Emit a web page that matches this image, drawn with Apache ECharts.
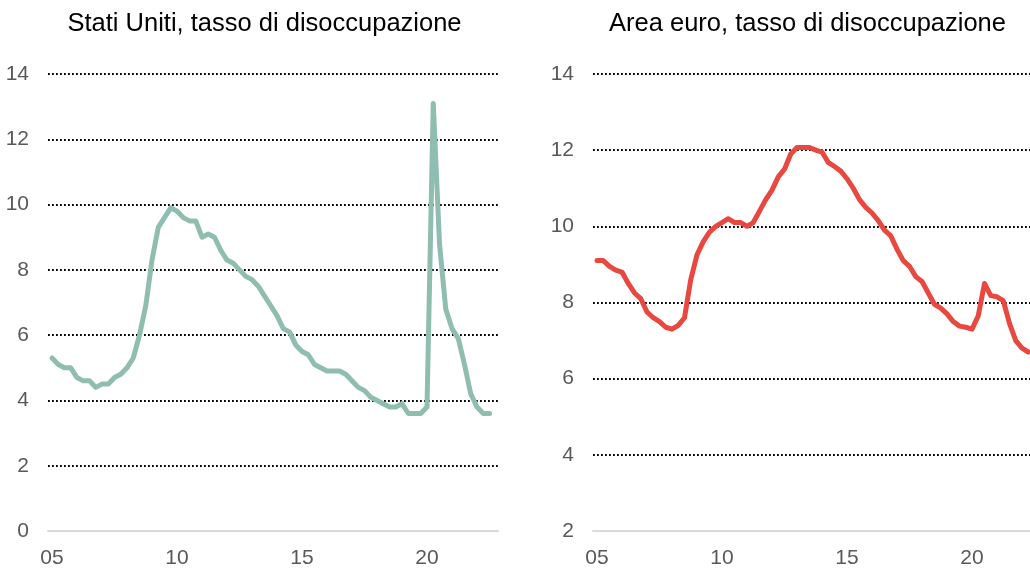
<!DOCTYPE html>
<html>
<head>
<meta charset="utf-8">
<script src="https://cdn.jsdelivr.net/npm/echarts@6/dist/echarts.min.js"></script>
<style>html,body{margin:0;padding:0;background:#fff;}#c{width:1030px;height:569px;}</style>
</head>
<body>
<div id="c"></div>
<script>
// Quarterly data, first quarter 2005 Q1
const startYear = 2005;
const usTitle = 'Stati Uniti, tasso di disoccupazione';
const euTitle = 'Area euro, tasso di disoccupazione';
const usUnemployment = [
  5.3, 5.1, 5.0, 5.0, 4.7, 4.6, 4.6, 4.4, 4.5, 4.5, 4.7, 4.8,
  5.0, 5.3, 6.0, 6.9, 8.3, 9.3, 9.6, 9.9, 9.8, 9.6, 9.5, 9.5,
  9.0, 9.1, 9.0, 8.6, 8.3, 8.2, 8.0, 7.8, 7.7, 7.5, 7.2, 6.9,
  6.6, 6.2, 6.1, 5.7, 5.5, 5.4, 5.1, 5.0, 4.9, 4.9, 4.9, 4.8,
  4.6, 4.4, 4.3, 4.1, 4.0, 3.9, 3.8, 3.8, 3.9, 3.6, 3.6, 3.6,
  3.8, 13.1, 8.8, 6.8, 6.2, 5.9, 5.1, 4.2, 3.8, 3.6, 3.6
];
const euUnemployment = [
  9.1, 9.1, 8.95, 8.85, 8.8, 8.5, 8.25, 8.1, 7.75, 7.6, 7.5, 7.35,
  7.3, 7.4, 7.6, 8.6, 9.25, 9.6, 9.85, 10.0, 10.1, 10.2, 10.1, 10.1,
  10.0, 10.1, 10.4, 10.7, 10.95, 11.3, 11.5, 11.9, 12.07, 12.07, 12.07, 12.0,
  11.95, 11.68, 11.57, 11.45, 11.25, 11.0, 10.7, 10.5, 10.35, 10.15, 9.9, 9.75,
  9.4, 9.1, 8.95, 8.68, 8.55, 8.25, 7.95, 7.85, 7.7, 7.5, 7.38, 7.35,
  7.3, 7.65, 8.5, 8.18, 8.15, 8.05, 7.45, 7.0, 6.8, 6.7
];
const xTickYears = [2005, 2010, 2015, 2020];
const xTickLabels = ['05', '10', '15', '20'];
const usYTicks = [0, 2, 4, 6, 8, 10, 12, 14];
const euYTicks = [2, 4, 6, 8, 10, 12, 14];

const toPairs = arr => arr.map((v, i) => [startYear + i / 4, v]);

const FONT = '"Liberation Sans", Arial, sans-serif';
const labelColor = '#595959';

function xAxis(gridIndex, max) {
  return {
    type: 'value', gridIndex, min: 2004.84, max,
    axisLine: { show: true, onZero: false, lineStyle: { color: '#d9d9d9', width: 2 } },
    axisTick: { show: false },
    splitLine: { show: false },
    axisLabel: {
      customValues: xTickYears,
      formatter: v => xTickLabels[xTickYears.indexOf(Math.round(v))] || '',
      color: labelColor, fontSize: 21, fontFamily: FONT, margin: 17
    }
  };
}
function yAxis(gridIndex, ticks) {
  return {
    type: 'value', gridIndex, min: ticks[0], max: ticks[ticks.length - 1], interval: 2,
    axisLine: { show: false }, axisTick: { show: false },
    axisLabel: { color: labelColor, fontSize: 21, fontFamily: FONT, margin: 19 },
    splitLine: { show: true, showMinLine: false, lineStyle: { color: '#000', width: 1.8, type: [1.8, 2.2] } }
  };
}

const chart = echarts.init(document.getElementById('c'), null, { renderer: 'canvas' });
chart.setOption({
  backgroundColor: '#fff',
  animation: false,
  title: [
    { text: usTitle, left: 264.5, top: 11, textAlign: 'center', padding: 0,
      textStyle: { fontSize: 25.5, fontWeight: 'normal', color: '#000', fontFamily: FONT } },
    { text: euTitle, left: 807.5, top: 11, textAlign: 'center', padding: 0,
      textStyle: { fontSize: 25.5, fontWeight: 'normal', color: '#000', fontFamily: FONT } }
  ],
  grid: [
    { left: 48, width: 450, top: 74, height: 458, containLabel: false },
    { left: 593, width: 437, top: 74, height: 458, containLabel: false }
  ],
  xAxis: [xAxis(0, 2022.84), xAxis(1, 2022.32)],
  yAxis: [yAxis(0, usYTicks), yAxis(1, euYTicks)],
  series: [
    { type: 'line', xAxisIndex: 0, yAxisIndex: 0, data: toPairs(usUnemployment),
      showSymbol: false, lineStyle: { color: '#8fbdb0', width: 5, join: 'round', cap: 'round' }, z: 3 },
    { type: 'line', xAxisIndex: 1, yAxisIndex: 1, data: toPairs(euUnemployment),
      showSymbol: false, lineStyle: { color: '#e8483f', width: 5, join: 'round', cap: 'round' }, z: 3 }
  ]
});
</script>
</body>
</html>
